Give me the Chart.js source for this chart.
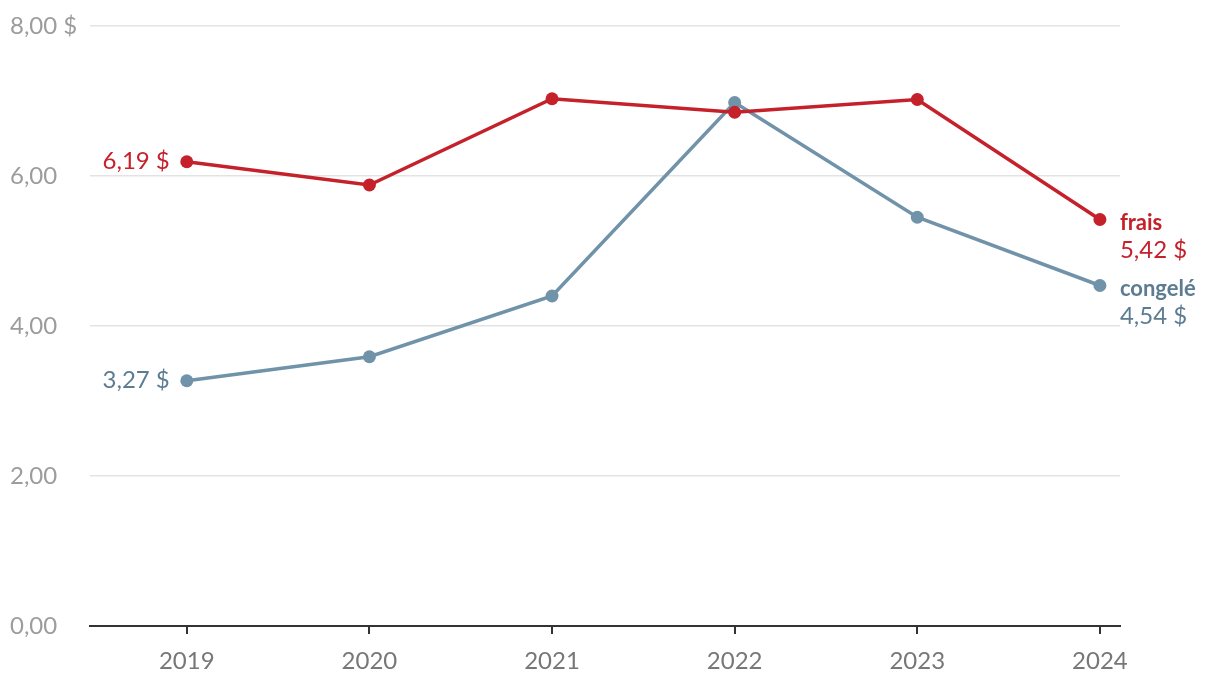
<!DOCTYPE html>
<html><head><meta charset="utf-8">
<script src="https://cdn.jsdelivr.net/npm/chart.js@4"></script>
<style>html,body{margin:0;padding:0;background:#fff}#wrap{width:1220px;height:686px}</style>
</head><body><div id="wrap"><canvas id="c"></canvas></div>
<script>
const years = [2019, 2020, 2021, 2022, 2023, 2024];
const fraisValues = [6.19, 5.88, 7.03, 6.85, 7.02, 5.42];
const congeleValues = [3.27, 3.59, 4.40, 6.98, 5.45, 4.54];
const yTicks = [0, 2, 4, 6, 8];
const seriesNames = ['frais', 'congelé'];

const RED = '#c4212b';
const BLUE = '#7093aa';
const BLUE_TXT = '#5c7c92';
const FONT = 'Lato, "Open Sans", sans-serif';

function fmt(v) { return v.toFixed(2).replace('.', ','); }

const labelPlugin = {
  id: 'labels',
  afterDatasetsDraw(chart) {
    const ctx = chart.ctx;
    ctx.save();
    chart.data.datasets.forEach((ds, i) => {
      const meta = chart.getDatasetMeta(i);
      const first = meta.data[0], last = meta.data[meta.data.length - 1];
      const txtColor = i === 0 ? RED : BLUE_TXT;
      ctx.fillStyle = txtColor;
      ctx.textBaseline = 'middle';
      ctx.font = '24px ' + FONT;
      ctx.textAlign = 'right';
      ctx.fillText(fmt(ds.data[0].y) + ' $', first.x - 17, first.y);
      ctx.textAlign = 'left';
      ctx.font = 'bold 22px ' + FONT;
      ctx.fillText(seriesNames[i], last.x + 20, last.y + 3);
      ctx.font = '24px ' + FONT;
      ctx.fillText(fmt(ds.data[ds.data.length - 1].y) + ' $', last.x + 20, last.y + 31);
    });
    ctx.restore();
  }
};

new Chart(document.getElementById('c'), {
  type: 'line',
  data: {
    datasets: [
      { label: seriesNames[0], data: years.map((y, i) => ({ x: y, y: fraisValues[i] })),
        borderColor: RED, backgroundColor: RED, borderWidth: 3.5, pointRadius: 6.5,
        pointBorderWidth: 0, pointHoverRadius: 6.5, tension: 0 },
      { label: seriesNames[1], data: years.map((y, i) => ({ x: y, y: congeleValues[i] })),
        borderColor: BLUE, backgroundColor: BLUE, borderWidth: 3.5, pointRadius: 6.5,
        pointBorderWidth: 0, pointHoverRadius: 6.5, tension: 0 }
    ]
  },
  options: {
    responsive: true, maintainAspectRatio: false, animation: false,
    layout: { padding: { left: 10, right: 100, top: 26, bottom: 0 } },
    plugins: { legend: { display: false }, tooltip: { enabled: false } },
    scales: {
      x: {
        type: 'linear', min: 2018.47, max: 2024.11,
        afterBuildTicks: (s) => { s.ticks = years.map(v => ({ value: v })); },
        afterFit: (s) => { s.height = 60; },
        grid: { drawOnChartArea: false, drawTicks: true, tickLength: 8, color: '#333', lineWidth: 2 },
        border: { display: true, color: '#333', width: 2 },
        ticks: { color: '#777', font: { family: FONT, size: 24 }, padding: 13,
                 callback: (v) => String(v), autoSkip: false, maxRotation: 0 }
      },
      y: {
        min: 0, max: 8,
        afterBuildTicks: (s) => { s.ticks = yTicks.map(v => ({ value: v })); },
        afterFit: (s) => { s.width = 80; },
        grid: { drawTicks: false, color: '#e3e3e3', lineWidth: 1.5 },
        border: { display: false },
        ticks: { color: '#9c9c9c', font: { family: FONT, size: 24 }, padding: 0, crossAlign: 'far',
                 callback: (v) => v === 8 ? fmt(v) + ' $' : fmt(v) }
      }
    }
  },
  plugins: [labelPlugin]
});
</script></body></html>
